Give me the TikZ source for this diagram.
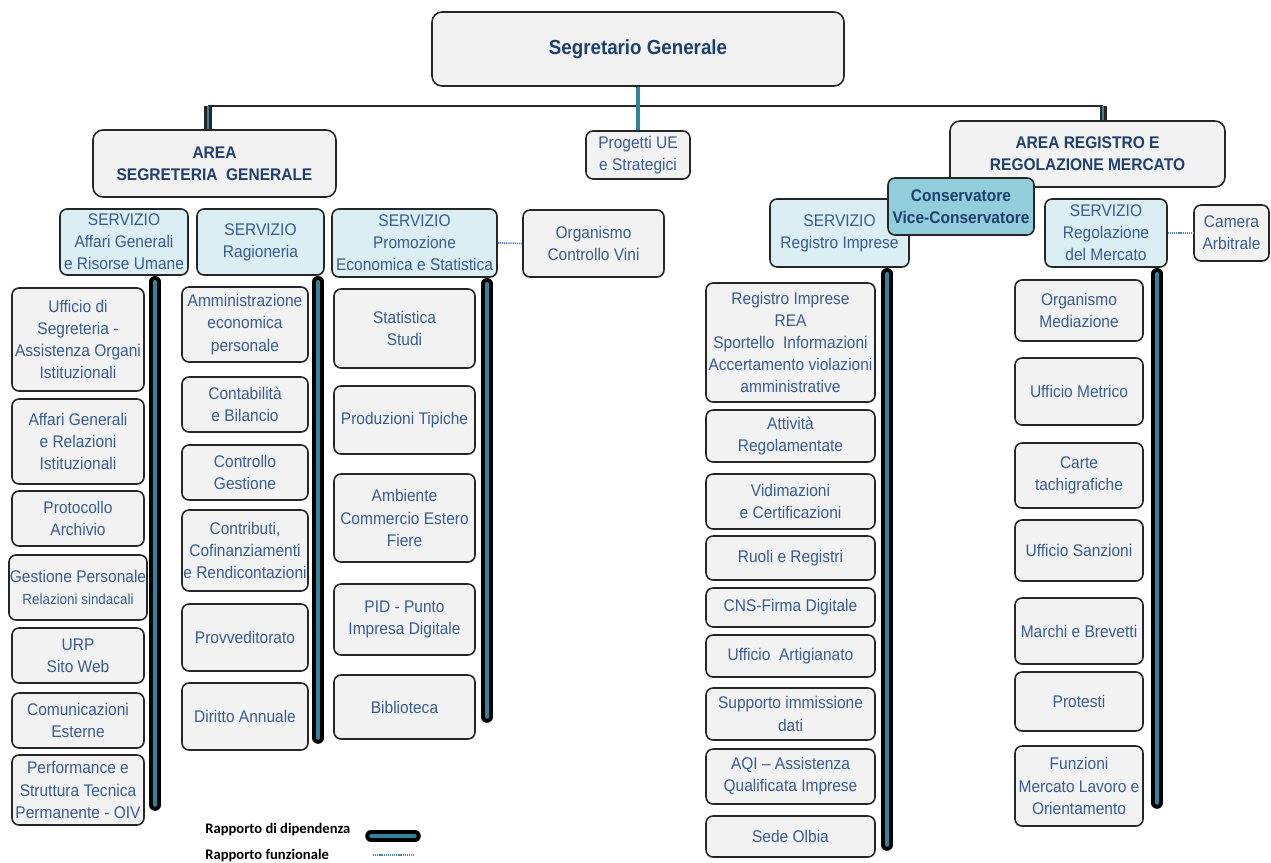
\documentclass[tikz,border=0pt]{standalone}
\usepackage{fontspec}
\setmainfont{Liberation Sans}[FakeStretch=0.92]
\newfontfamily\legendfont{Carlito}
\usetikzlibrary{arrows.meta,positioning}
\definecolor{boxfill}{HTML}{F2F2F2}
\definecolor{svcfill}{HTML}{DAEEF3}
\definecolor{consfill}{HTML}{92CDDC}
\definecolor{textblue}{HTML}{3A5C92}
\definecolor{titleblue}{HTML}{1F3F6E}
\definecolor{barteal}{HTML}{31849B}
\definecolor{edgegrey}{HTML}{262626}
\definecolor{dotblue}{HTML}{4F81BD}
\newcommand{\bodyfont}{\fontsize{9.6}{12.6}\selectfont}
\newcommand{\titlefont}{\fontsize{9.6}{12.6}\selectfont\bfseries}

\begin{document}
\begin{tikzpicture}[x=0.02cm,y=-0.02cm]
\tikzset{px/.style args={#1,#2,#3,#4}{at={({(#1+#3)/2},{(#2+#4)/2})}, minimum width={(#3-#1)*0.02cm}, minimum height={(#4-#2)*0.02cm}}}
\tikzset{unit/.style={draw=edgegrey, line width=0.9pt, fill=boxfill, rounded corners=0.14cm, align=center, inner sep=0.5pt, text=textblue, font=\bodyfont}}
\tikzset{area/.style={unit, rounded corners=0.2cm, text=titleblue, font=\titlefont}}
\tikzset{service/.style={unit, fill=svcfill}}
\tikzset{depbar/.style={draw=black, double=barteal, double distance=2pt, line width=2.3pt, line cap=round}}
\tikzset{funline/.style={draw=dotblue, line width=1pt, dash pattern=on 0.7pt off 0.5pt}}
\tikzset{treeline/.style={draw=edgegrey, line width=1.2pt}}
\tikzset{dropline/.style={draw=edgegrey, double=barteal, double distance=1.4pt, line width=1.3pt}}
\useasboundingbox (0,0) rectangle (1271,862);

\node [area, px={432,12,844,86}, font=\fontsize{11.6}{14}\selectfont\bfseries] (sg) {Segretario Generale};
\node [area, px={93,130,336,197}] (asg) {AREA\\SEGRETERIA\ \ GENERALE};
\node [unit, px={586,131,690,179}] (prog) {Progetti UE\\e Strategici};
\node [area, px={950,121,1225,187}] (arm) {AREA REGISTRO E\\REGOLAZIONE MERCATO};

\node [service, px={60,209,188,275}] (svcAG) {SERVIZIO\\Affari Generali\\e Risorse Umane};
\node [service, px={197,209,324,275}] (svcRG) {SERVIZIO\\Ragioneria};
\node [service, px={332,209,497,277}] (svcPE) {SERVIZIO\\Promozione\\Economica e Statistica};
\node [unit, px={523,210,664,277}] (ocv) {Organismo\\Controllo Vini};
\node [service, px={770,199,909,267}] (svcRI) {SERVIZIO\\Registro Imprese};
\node [area, fill=consfill, rounded corners=0.14cm, px={888,178,1034,235}] (cons) {Conservatore\\Vice-Conservatore};
\node [service, px={1045,199,1167,267}] (svcRM) {SERVIZIO\\Regolazione\\del Mercato};
\node [unit, px={1194,205,1269,261}] (cam) {Camera\\Arbitrale};

\node [unit, px={12,288,144,391}] (ag1) {Ufficio di\\Segreteria -\\Assistenza Organi\\Istituzionali};
\node [unit, px={12,399,144,484}] (ag2) {Affari Generali\\e Relazioni\\Istituzionali};
\node [unit, px={12,491,144,546}] (ag3) {Protocollo\\Archivio};
\node [unit, px={12,555,144,620}] (ag4) {Gestione Personale\\{\fontsize{8.3}{12}\selectfont Relazioni sindacali}};
\node [unit, px={12,628,144,683}] (ag5) {URP\\Sito Web};
\node [unit, px={12,693,144,748}] (ag6) {Comunicazioni\\Esterne};
\node [unit, px={12,755,144,825}] (ag7) {Performance e\\Struttura Tecnica\\Permanente - OIV};

\node [unit, px={182,287,308,362}] (rg1) {Amministrazione\\economica\\personale};
\node [unit, px={182,377,308,432}] (rg2) {Contabilità\\e Bilancio};
\node [unit, px={182,445,308,500}] (rg3) {Controllo\\Gestione};
\node [unit, px={182,510,308,591}] (rg4) {Contributi,\\Cofinanziamenti\\e Rendicontazioni};
\node [unit, px={182,604,308,671}] (rg5) {Provveditorato};
\node [unit, px={182,683,308,750}] (rg6) {Diritto Annuale};

\node [unit, px={334,289,475,368}] (pe1) {Statistica\\Studi};
\node [unit, px={334,386,475,454}] (pe2) {Produzioni Tipiche};
\node [unit, px={334,474,475,562}] (pe3) {Ambiente\\Commercio Estero\\Fiere};
\node [unit, px={334,584,475,655}] (pe4) {PID - Punto\\Impresa Digitale};
\node [unit, px={334,675,475,739}] (pe5) {Biblioteca};

\node [unit, px={706,283,875,402}] (ri1) {Registro Imprese\\REA\\Sportello\ \ Informazioni\\Accertamento violazioni\\amministrative};
\node [unit, px={706,410,875,462}] (ri2) {Attività\\Regolamentate};
\node [unit, px={706,474,875,529}] (ri3) {Vidimazioni\\e Certificazioni};
\node [unit, px={706,536,875,580}] (ri4) {Ruoli e Registri};
\node [unit, px={706,588,875,627}] (ri5) {CNS-Firma Digitale};
\node [unit, px={706,635,875,677}] (ri6) {Ufficio\ \ Artigianato};
\node [unit, px={706,688,875,740}] (ri7) {Supporto immissione\\dati};
\node [unit, px={706,749,875,804}] (ri8) {AQI – Assistenza\\Qualificata Imprese};
\node [unit, px={706,816,875,857}] (ri9) {Sede Olbia};

\node [unit, px={1015,280,1143,341}] (rm1) {Organismo\\Mediazione};
\node [unit, px={1015,358,1143,425}] (rm2) {Ufficio Metrico};
\node [unit, px={1015,443,1143,508}] (rm3) {Carte\\tachigrafiche};
\node [unit, px={1015,520,1143,581}] (rm4) {Ufficio Sanzioni};
\node [unit, px={1015,598,1143,664}] (rm5) {Marchi e Brevetti};
\node [unit, px={1015,672,1143,731}] (rm6) {Protesti};
\node [unit, px={1015,746,1143,826}] (rm7) {Funzioni\\Mercato Lavoro e\\Orientamento};

\coordinate (hl) at (208,106);
\coordinate (hr) at (1103,106);
\draw [treeline] (hl) -- (hr);
\draw [dropline] (hl) -- (hl |- asg.north);
\draw [dropline] (hr) -- (hr |- arm.north);
\draw [draw=barteal, line width=1.8pt] (sg.south) -- (prog.north);

\coordinate (endAG) at (155,805);
\coordinate (endRG) at (318,738);
\coordinate (endPE) at (487,717);
\coordinate (endRI) at (887,845);
\coordinate (endRM) at (1157,803);
\draw [depbar] (endAG |- svcAG.south) ++(0,6) -- (endAG);
\draw [depbar] (endRG |- svcRG.south) ++(0,6) -- (endRG);
\draw [depbar] (endPE |- svcPE.south) ++(0,6) -- (endPE);
\draw [depbar] (endRI |- svcRI.south) ++(0,6) -- (endRI);
\draw [depbar] (endRM |- svcRM.south) ++(0,6) -- (endRM);

\draw [funline] (svcPE.east) -- (ocv.west);
\draw [funline] (svcRM.east) -- (cam.west);

\node [anchor=west, inner sep=0, font=\legendfont\fontsize{8.3}{9}\selectfont\bfseries] (legdip) at (205,830) {Rapporto di dipendenza};
\node [anchor=west, inner sep=0, font=\legendfont\fontsize{8.3}{9}\selectfont\bfseries] (legfun) at (205,856) {Rapporto funzionale};
\coordinate (ldA) at (371,836);
\coordinate (ldB) at (415,836);
\coordinate (lfA) at (373,855);
\coordinate (lfB) at (415,855);
\draw [depbar] (ldA) -- (ldB);
\draw [funline] (lfA) -- (lfB);
\end{tikzpicture}
\end{document}
